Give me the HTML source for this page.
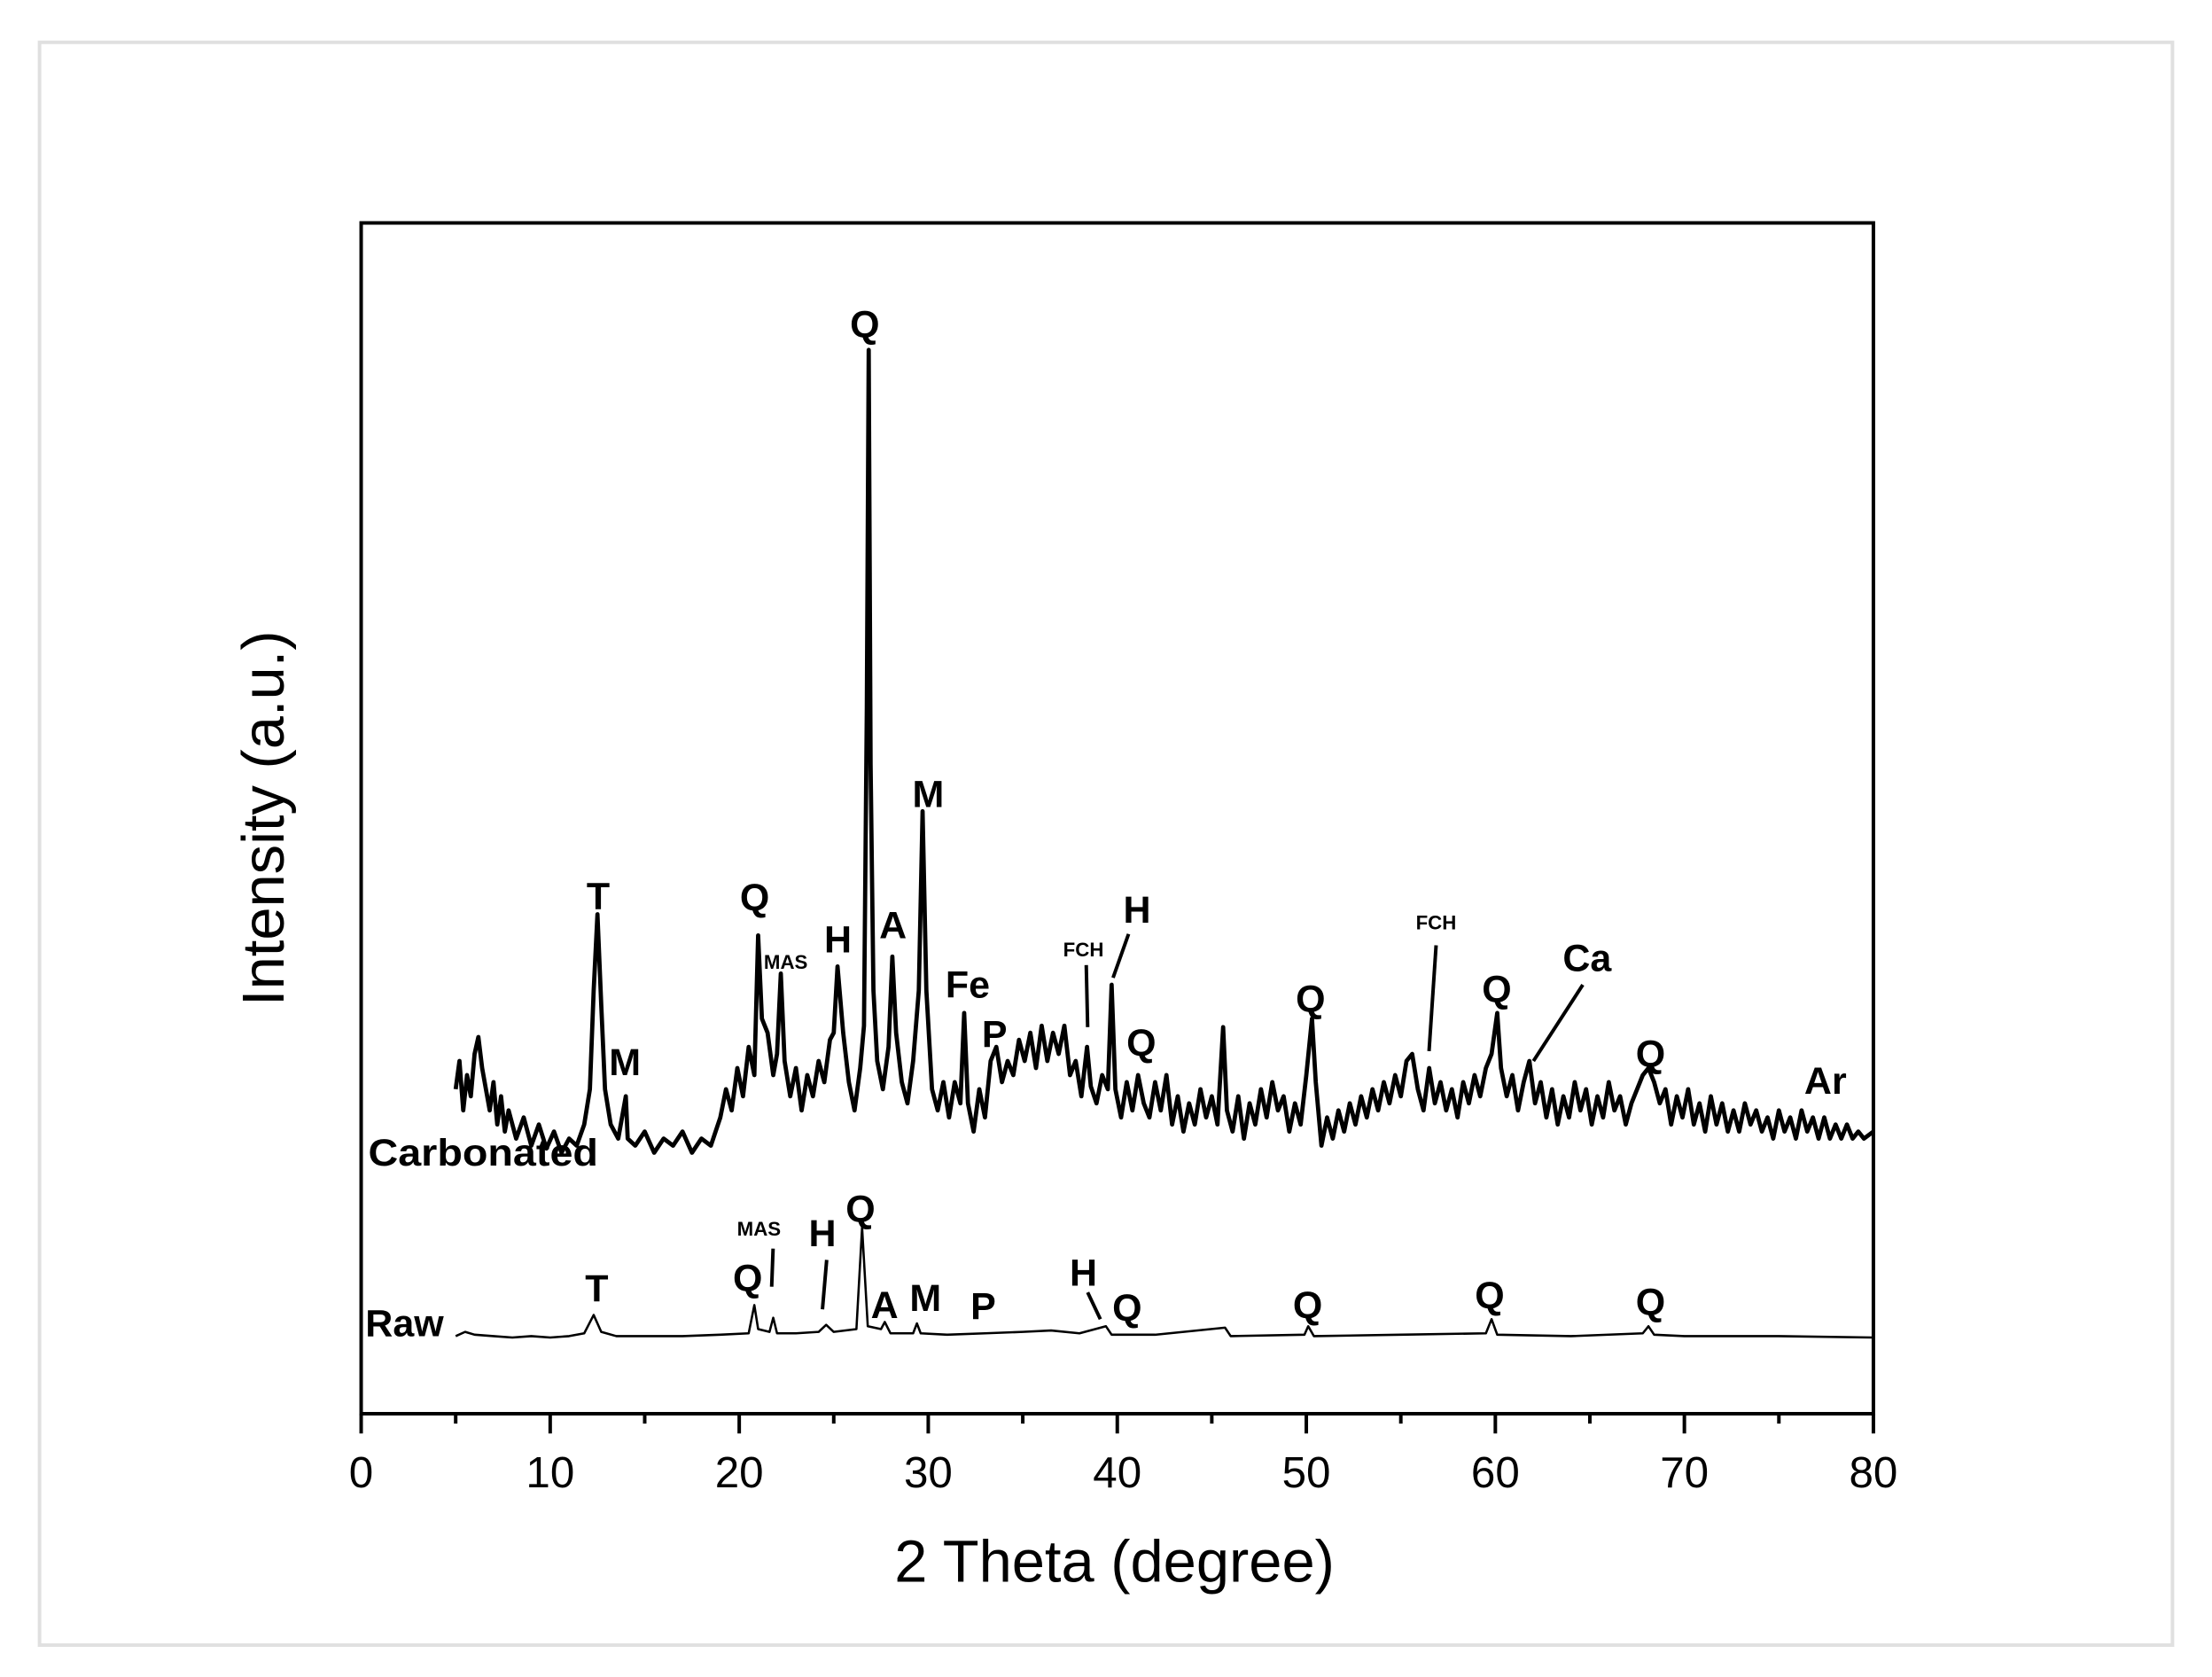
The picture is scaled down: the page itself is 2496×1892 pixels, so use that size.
<!DOCTYPE html>
<html><head><meta charset="utf-8"><style>
html,body{margin:0;padding:0;background:#fff;}
svg{display:block;}
text{font-family:"Liberation Sans",Arial,sans-serif;fill:#000;}
.lb{font-weight:bold;font-size:27px;}
.sm{font-weight:bold;font-size:14px;}
</style></head><body>
<svg id="chart" width="2496" height="1892" viewBox="0 0 1568 1188.6">
<rect x="28" y="30" width="1512" height="1136" fill="none" stroke="#e0e0e0" stroke-width="2.5"/>
<rect x="256" y="158" width="1072" height="844" fill="none" stroke="#000" stroke-width="2.5"/>
<g id="xticks"></g>
<g id="series"></g>
<g id="labels"></g>
<text x="190" y="580" font-size="42" text-anchor="middle" dominant-baseline="middle" transform="rotate(-90 190 580)">Intensity (a.u.)</text>
<text x="790" y="1110" font-size="42" text-anchor="middle" dominant-baseline="middle">2 Theta (degree)</text>
<text x="261" y="826" class="lb" font-size="27" textLength="163" lengthAdjust="spacingAndGlyphs">Carbonated</text>
<text x="259" y="947" class="lb" font-size="25">Raw</text>
</svg>
<script>
const xTicks=[0,10,20,30,40,50,60,70,80];
const carbX=[5,5.2,5.4,5.6,5.8,6.0,6.2,6.4,6.6,6.8,7.0,7.2,7.4,7.6,7.8,8.2,8.6,9.0,9.4,9.8,10.2,10.6,11.0,11.4,11.8,12.1,12.3,12.5,12.7,12.9,13.2,13.6,14.0,14.1,14.5,15,15.5,16,16.5,17,17.5,18,18.5,19,19.3,19.6,19.9,20.2,20.5,20.8,21.0,21.2,21.5,21.8,22.0,22.2,22.4,22.7,23.0,23.3,23.6,23.9,24.2,24.5,24.8,25.0,25.2,25.5,25.8,26.1,26.4,26.6,26.75,26.85,26.95,27.1,27.3,27.6,27.9,28.1,28.3,28.6,28.9,29.2,29.5,29.7,29.9,30.2,30.5,30.8,31.1,31.4,31.7,31.9,32.1,32.4,32.7,33.0,33.3,33.6,33.9,34.2,34.5,34.8,35.1,35.4,35.7,36.0,36.3,36.6,36.9,37.2,37.5,37.8,38.1,38.4,38.6,38.9,39.2,39.5,39.7,39.9,40.2,40.5,40.8,41.1,41.4,41.7,42.0,42.3,42.6,42.9,43.2,43.5,43.8,44.1,44.4,44.7,45.0,45.3,45.6,45.8,46.1,46.4,46.7,47.0,47.3,47.6,47.9,48.2,48.5,48.8,49.1,49.4,49.7,50.0,50.3,50.5,50.8,51.1,51.4,51.7,52.0,52.3,52.6,52.9,53.2,53.5,53.8,54.1,54.4,54.7,55.0,55.3,55.6,55.9,56.2,56.5,56.8,57.1,57.4,57.7,58.0,58.3,58.6,58.9,59.2,59.5,59.8,60.1,60.3,60.6,60.9,61.2,61.5,61.8,62.1,62.4,62.7,63.0,63.3,63.6,63.9,64.2,64.5,64.8,65.1,65.4,65.7,66.0,66.3,66.6,66.9,67.2,67.5,67.8,68.1,68.4,68.7,69.0,69.3,69.6,69.9,70.2,70.5,70.8,71.1,71.4,71.7,72.0,72.3,72.6,72.9,73.2,73.5,73.8,74.1,74.4,74.7,75.0,75.3,75.6,75.9,76.2,76.5,76.8,77.1,77.4,77.7,78.0,78.3,78.6,78.9,79.2,79.5,80];
const carbY=[230,250,215,240,225,255,267,245,230,215,235,205,225,200,215,195,210,190,205,188,200,185,195,190,205,230,300,354,290,230,205,195,225,195,190,200,185,195,190,200,185,195,190,210,230,215,245,225,260,240,339,280,270,240,255,312,250,225,245,215,240,225,250,235,265,270,317,270,235,215,245,275,500,754,460,300,250,230,260,324,270,235,220,250,300,427,300,230,215,235,210,235,220,284,220,200,230,210,250,260,235,250,240,265,250,270,245,275,250,270,255,275,240,250,225,260,232,220,240,230,304,230,210,235,215,240,220,210,235,215,240,205,225,200,220,205,230,210,225,205,274,215,200,225,195,220,205,230,210,235,215,225,200,220,205,240,280,235,190,210,195,215,200,220,205,225,210,230,215,235,220,240,225,250,255,230,215,245,220,235,215,230,210,235,220,240,225,245,255,284,245,225,240,215,235,250,220,235,210,230,205,225,210,235,215,230,205,225,210,235,215,225,205,220,230,240,245,235,220,230,205,225,210,230,205,220,200,225,205,220,200,215,200,220,205,215,200,210,195,215,200,210,195,215,200,210,195,210,195,205,195,205,195,200,195,200];
const rawX=[5,5.5,6,7,8,9,10,11,11.8,12.3,12.7,13.5,15,17,19,20.5,20.8,21.0,21.6,21.8,22.0,23,24.2,24.6,25,26.2,26.5,26.8,27.5,27.7,28,29.2,29.4,29.6,31,33,35,36.5,38,39.4,39.7,42,45.7,46,49.9,50.1,50.4,55,59.5,59.8,60.1,64,67.8,68.1,68.4,70,75,80];
const rawY=[55,58,56,55,54,55,54,55,57,70,58,55,55,55,56,57,77,60,58,68,57,57,58,63,58,60,132,62,60,65,57,57,64,57,56,57,58,59,57,62,56,56,61,55,56,62,55,56,57,67,56,55,57,62,56,55,55,54];
const labelText=["Q","M","T","Q","MAS","H","A","Fe","P","FCH","H","Q","M","Q","FCH","Q","Ca","Q","Ar","T","Q","MAS","H","Q","A","M","P","H","Q","Q","Q","Q"];
const labelX=[613,658,424,535,557,594,633,686,705,768,806,809,443,929,1018,1061,1125,1170,1294,423,530,538,583,610,627,656,697,768,799,927,1056,1170];
const labelY=[232,565,637,638,683,668,658,700,735,674,647,741,755,710,655,703,681,749,768,915,908,872,876,859,927,922,928,904,929,927,920,925];
const leaders=[[1018,670,1013,745],[1122,698,1087,752],[800,662,789,693],[770,684,771,728],[548,885,547,912],[586,893,583,928],[771,916,780,935]];
const NS='http://www.w3.org/2000/svg';
const X0=256,X1=1328,YB=1002,YT=158;
function sx(v){return X0+(v-0)/(80-0)*(X1-X0);}
function sy(v){return YB-(v-0)/(844-0)*(YB-YT);}
const gT=document.getElementById('xticks');
for(let v=0;v<=80;v+=5){
  const major=xTicks.includes(v);
  const t=document.createElementNS(NS,'line');
  t.setAttribute('x1',sx(v));t.setAttribute('x2',sx(v));
  t.setAttribute('y1',YB);t.setAttribute('y2',YB+(major?14:7));
  t.setAttribute('stroke','#000');t.setAttribute('stroke-width','2.5');
  
  
  gT.appendChild(t);
}
xTicks.forEach(v=>{
  const tx=document.createElementNS(NS,'text');
  tx.setAttribute('x',sx(v));tx.setAttribute('y',1046);
  tx.setAttribute('text-anchor','middle');tx.setAttribute('dominant-baseline','middle');
  tx.setAttribute('font-size','31');
  tx.textContent=v;
  
  
  gT.appendChild(tx);
});
const gS=document.getElementById('series');
function drawLine(xs,ys,w,name){
  const p=document.createElementNS(NS,'polyline');
  p.setAttribute('points',xs.map((x,i)=>sx(x).toFixed(2)+','+sy(ys[i]).toFixed(2)).join(' '));
  p.setAttribute('fill','none');p.setAttribute('stroke','#000');
  p.setAttribute('stroke-width',w);p.setAttribute('stroke-linejoin','round');
  
  
  gS.appendChild(p);
}
drawLine(carbX,carbY,3,'carbonated-series');
drawLine(rawX,rawY,1.6,'raw-series');
const gL=document.getElementById('labels');
labelText.forEach((s,i)=>{
  const t=document.createElementNS(NS,'text');
  t.setAttribute('x',labelX[i]);t.setAttribute('y',labelY[i]);
  t.setAttribute('text-anchor','middle');t.setAttribute('dominant-baseline','middle');
  t.setAttribute('class',(s==='MAS'||s==='FCH')?'sm':'lb');
  t.textContent=s;
  
  
  gL.appendChild(t);
});
leaders.forEach(l=>{
  const ln=document.createElementNS(NS,'line');
  ln.setAttribute('x1',l[0]);ln.setAttribute('y1',l[1]);ln.setAttribute('x2',l[2]);ln.setAttribute('y2',l[3]);
  ln.setAttribute('stroke','#000');ln.setAttribute('stroke-width','2.5');
  
  
  gL.appendChild(ln);
});
</script>
</body></html>
